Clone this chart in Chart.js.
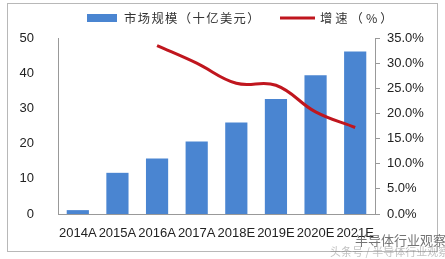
<!DOCTYPE html>
<html>
<head>
<meta charset="utf-8">
<script src="https://cdn.jsdelivr.net/npm/chart.js@4/dist/chart.umd.min.js"></script>
<style>
  html, body { margin: 0; padding: 0; background: #fff; }
  #wrap { width: 445px; height: 259px; position: relative; }
</style>
</head>
<body>
<div id="wrap"><canvas id="c" width="445" height="259"></canvas></div>
<script>
const years = ['2014A', '2015A', '2016A', '2017A', '2018E', '2019E', '2020E', '2021E'];
const marketSize = [1.1, 11.7, 15.8, 20.6, 26.0, 32.7, 39.4, 46.2];
const growthRate = [null, null, 33.5, 30.0, 26.0, 25.6, 20.3, 17.2];
const sizeLabel = '市场规模（十亿美元）';
const growthLabel = '增速（%）';

const barColor = '#4a85d1';
const lineColor = '#c0161e';
const tickFont = { family: 'Liberation Sans, Arial', size: 13 };

// legend drawn by hand so the chart area can sit where the reference has it
const legendPlugin = {
  id: 'topLegend',
  afterDraw(chart) {
    const ctx = chart.ctx;
    const y = 18;
    ctx.save();
    ctx.font = '12.3px "Noto Sans CJK SC"';
    ctx.textBaseline = 'middle';
    ctx.fillStyle = barColor;
    ctx.fillRect(87, y - 4, 30, 8);
    ctx.fillStyle = '#333';
    ctx.letterSpacing = '1.4px';
    ctx.fillText(chart.data.datasets[1].label, 124, y);
    ctx.strokeStyle = lineColor;
    ctx.lineWidth = 3;
    ctx.beginPath();
    ctx.moveTo(280, y);
    ctx.lineTo(315, y);
    ctx.stroke();
    ctx.letterSpacing = '3px';
    ctx.fillText(chart.data.datasets[0].label, 320, y);
    ctx.restore();
  },
};

// frame around the picture and the watermark in the corner
const framePlugin = {
  id: 'frame',
  afterDraw(chart) {
    const ctx = chart.ctx;
    ctx.save();
    ctx.strokeStyle = '#b8b8b8';
    ctx.lineWidth = 1;
    ctx.strokeRect(7.5, 3.5, 430, 248);
    ctx.font = '13px "Noto Sans CJK SC"';
    ctx.fillStyle = 'rgba(90,90,90,0.85)';
    ctx.textBaseline = 'middle';
    ctx.fillText('半导体行业观察', 355, 240);
    ctx.font = '11px "Noto Sans CJK SC"';
    ctx.fillStyle = 'rgba(120,120,120,0.45)';
    ctx.fillText('头条号 / 半导体行业观察', 330, 252);
    ctx.restore();
  },
};

new Chart(document.getElementById('c'), {
  data: {
    labels: years,
    datasets: [
      {
        type: 'line',
        label: growthLabel,
        data: growthRate,
        yAxisID: 'y1',
        borderColor: lineColor,
        backgroundColor: lineColor,
        borderWidth: 3,
        pointRadius: 0,
        tension: 0.4,
        order: 0,
      },
      {
        type: 'bar',
        label: sizeLabel,
        data: marketSize,
        yAxisID: 'y',
        backgroundColor: barColor,
        barPercentage: 0.7,
        categoryPercentage: 0.8,
        order: 1,
      },
    ],
  },
  options: {
    responsive: false,
    animation: false,
    layout: { padding: { top: 38, left: 0, right: 0, bottom: 0 } },
    plugins: {
      legend: { display: false },
      tooltip: { enabled: false },
    },
    scales: {
      x: {
        grid: { display: false },
        border: { display: true, color: '#999' },
        ticks: { font: tickFont, color: '#222', padding: 4, maxRotation: 0, autoSkip: false },
        afterFit(axis) { axis.height = 45; },
      },
      y: {
        position: 'left',
        min: 0,
        max: 50,
        grid: { display: false },
        border: { display: true, color: '#999' },
        ticks: { stepSize: 10, font: tickFont, color: '#222', padding: 16 },
        afterFit(axis) { axis.width = 58; },
      },
      y1: {
        position: 'right',
        min: 0,
        max: 35,
        grid: { drawOnChartArea: false, drawTicks: true, tickLength: 5, color: '#999' },
        border: { display: true, color: '#999' },
        ticks: {
          stepSize: 5,
          font: tickFont,
          color: '#222',
          padding: 7,
          callback: (v) => v.toFixed(1) + '%',
        },
        afterFit(axis) { axis.width = 70; },
      },
    },
  },
  plugins: [legendPlugin, framePlugin],
});
</script>
</body>
</html>
